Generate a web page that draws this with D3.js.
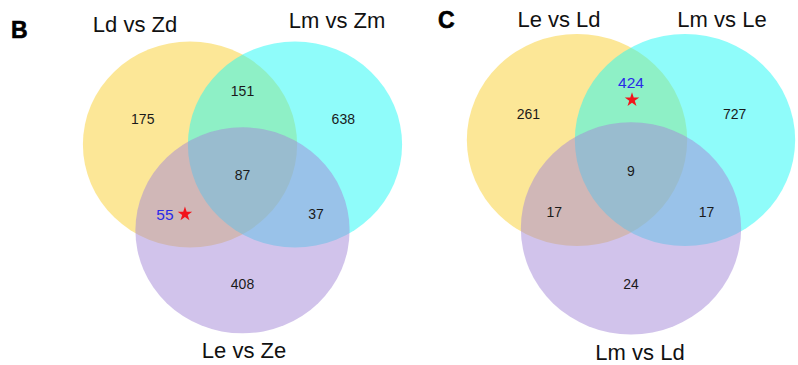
<!DOCTYPE html>
<html>
<head>
<meta charset="utf-8">
<script src="https://cdn.jsdelivr.net/npm/d3@7/dist/d3.min.js"></script>
<style>
  html, body { margin: 0; padding: 0; background: #fff; }
  svg { display: block; font-family: "Liberation Sans", Arial, Helvetica, sans-serif; }
</style>
</head>
<body>
<svg id="chart" width="798" height="365"></svg>
<script>
// Region order for every panel: only A, only B, only C, A∩B, A∩C, B∩C, A∩B∩C
const regionKeys = ["A", "B", "C", "AB", "AC", "BC", "ABC"];

// Panel B
const setsB = ["Ld vs Zd", "Lm vs Zm", "Le vs Ze"];
const countsB = [175, 638, 408, 151, 55, 37, 87];
const highlightB = "AC";

// Panel C
const setsC = ["Le vs Ld", "Lm vs Le", "Lm vs Ld"];
const countsC = [261, 727, 24, 424, 17, 17, 9];
const highlightC = "AB";

// Shared unit layout of the three circles and the label anchor of each region
const unitCircles = [
  { x: -0.5, y: 0 },
  { x: 0.5, y: 0 },
  { x: 0, y: 0.85 }
];
const unitRadius = 1.02;
const unitRegionAnchor = {
  A:   [-0.95, -0.25],
  B:   [0.96, -0.25],
  C:   [0, 1.38],
  AB:  [0, -0.53],
  AC:  [-0.71, 0.69],
  BC:  [0.70, 0.69],
  ABC: [0, 0.30]
};

const fills = ["#f9cf2f", "#1ff9f5", "#a387d7"];

const panels = [
  {
    letter: "B", letterX: 11, letterY: 38, letterSize: 23,
    sets: setsB, counts: countsB, highlight: highlightB, starPos: "right",
    cx: 242.5, cy: 144.5, kx: 105, ky: 101,
    titles: [[135, 32], [337, 28], [244, 358]]
  },
  {
    letter: "C", letterX: 438, letterY: 28, letterSize: 23,
    sets: setsC, counts: countsC, highlight: highlightC, starPos: "below",
    cx: 631, cy: 140, kx: 108, ky: 104,
    titles: [[559, 27], [722, 27], [640, 360]]
  }
];

const svg = d3.select("#chart");

panels.forEach(p => {
  const x = d3.scaleLinear().domain([-1, 1]).range([p.cx - p.kx, p.cx + p.kx]);
  const y = d3.scaleLinear().domain([-1, 1]).range([p.cy - p.ky, p.cy + p.ky]);
  const g = svg.append("g");

  // circles
  g.selectAll("ellipse")
    .data(unitCircles)
    .join("ellipse")
    .attr("cx", d => x(d.x))
    .attr("cy", d => y(d.y))
    .attr("rx", x(unitRadius) - x(0))
    .attr("ry", y(unitRadius) - y(0))
    .attr("fill", (d, i) => fills[i])
    .attr("fill-opacity", 0.5);

  // set names
  g.selectAll("text.title")
    .data(p.sets)
    .join("text")
    .attr("class", "title")
    .attr("x", (d, i) => p.titles[i][0])
    .attr("y", (d, i) => p.titles[i][1])
    .attr("text-anchor", "middle")
    .attr("font-size", 22)
    .attr("fill", "#111")
    .text(d => d);

  // region counts
  const regions = regionKeys.map((k, i) => ({ key: k, value: p.counts[i] }));
  g.selectAll("text.count")
    .data(regions)
    .join("text")
    .attr("class", "count")
    .attr("x", d => {
      const ax = x(unitRegionAnchor[d.key][0]);
      return d.key === p.highlight && p.starPos === "right" ? ax - 3 : ax;
    })
    .attr("y", d => {
      const ay = y(unitRegionAnchor[d.key][1]);
      return d.key === p.highlight && p.starPos === "below" ? ay - 2 : ay;
    })
    .attr("dy", "0.36em")
    .attr("text-anchor", "middle")
    .attr("font-size", d => d.key === p.highlight ? 15.5 : 14)
    .attr("fill", d => d.key === p.highlight ? "#2a2ae8" : "#1a1a1a")
    .text(d => d.value);

  // star marking the highlighted region
  const h = unitRegionAnchor[p.highlight];
  const sx = p.starPos === "right" ? x(h[0]) + 17 : x(h[0]) + 1;
  const sy = p.starPos === "right" ? y(h[1]) : y(h[1]) + 15;
  g.append("path")
    .attr("d", d3.symbol(d3.symbolStar, 65)())
    .attr("transform", `translate(${sx},${sy})`)
    .attr("fill", "#f2141b");

  // panel letter
  g.append("text")
    .attr("x", p.letterX)
    .attr("y", p.letterY)
    .attr("font-size", p.letterSize)
    .attr("font-weight", "bold")
    .attr("fill", "#000")
    .attr("stroke", "#000")
    .attr("stroke-width", 0.6)
    .text(p.letter);
});
</script>
</body>
</html>
